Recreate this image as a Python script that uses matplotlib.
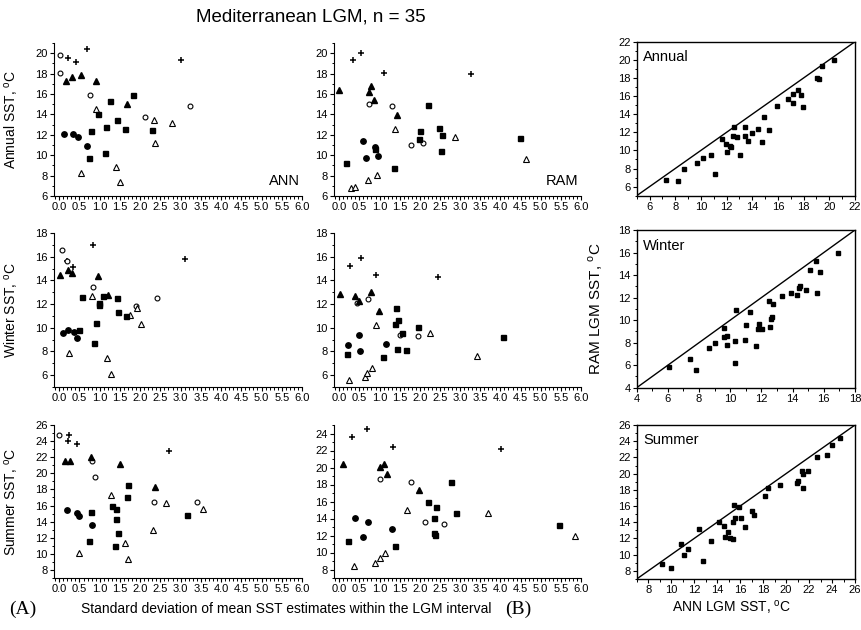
import matplotlib
matplotlib.use("Agg")
import matplotlib.pyplot as plt
from matplotlib.ticker import MultipleLocator, FormatStrFormatter

plt.rcParams['font.family'] = ['Liberation Sans', 'DejaVu Sans']
plt.rcParams['mathtext.fontset'] = 'custom'
plt.rcParams['mathtext.rm'] = 'Liberation Sans'

# (standard deviation, SST) pairs, one list per site group
# ANN method, annual
ann_annual_plus = [(0.68, 20.4), (0.22, 19.55), (0.41, 19.1), (3.01, 19.3)]
ann_annual_ocirc = [(0.03, 19.8), (0.02, 18.05), (0.77, 15.95), (2.11, 13.75), (3.22, 14.85)]
ann_annual_ftri = [(0.17, 17.3), (0.31, 17.7), (0.53, 17.9), (0.90, 17.25), (1.68, 15.0)]
ann_annual_otri = [(0.91, 14.55), (2.34, 13.5), (2.37, 11.15), (2.79, 13.2), (0.53, 8.3), (1.40, 8.8), (1.50, 7.4)]
ann_annual_sq = [(0.95, 14.0), (1.26, 15.35), (1.83, 15.95), (1.43, 13.45), (1.62, 12.55), (1.15, 12.8),
                 (0.79, 12.35), (2.28, 12.45), (0.74, 9.75), (1.12, 10.2)]
ann_annual_fcirc = [(0.12, 12.1), (0.34, 12.05), (0.46, 11.75), (0.69, 10.9)]

# RAM method, annual
ram_annual_plus = [(0.33, 19.35), (0.54, 20.0), (1.12, 18.05), (3.27, 18.0)]
ram_annual_ocirc = [(0.75, 15.05), (1.32, 14.85), (1.78, 11.0), (2.07, 11.15)]
ram_annual_ftri = [(0.0, 16.4), (0.78, 16.75), (0.75, 16.2), (0.87, 15.4), (1.44, 13.9)]
ram_annual_otri = [(1.38, 12.55), (2.88, 11.8), (4.64, 9.65), (0.29, 6.8), (0.40, 6.9), (0.71, 7.55), (0.93, 8.1)]
ram_annual_sq = [(0.17, 9.25), (1.35, 8.75), (0.89, 10.6), (2.21, 14.9), (2.01, 12.4), (1.98, 11.6),
                 (2.48, 12.65), (2.56, 12.0), (2.53, 10.4), (4.49, 11.65)]
ram_annual_fcirc = [(0.60, 11.35), (0.67, 9.7), (0.95, 9.9), (0.89, 10.8)]

# ANN method, winter
ann_winter_plus = [(0.83, 17.0), (0.35, 15.15), (3.11, 15.8), (0.19, 15.6)]
ann_winter_ocirc = [(0.07, 16.55), (0.19, 15.6), (0.83, 13.4), (1.90, 11.85), (2.41, 12.55)]
ann_winter_ftri = [(0.03, 14.45), (0.22, 14.9), (0.31, 14.6), (0.95, 14.4), (1.21, 12.8)]
ann_winter_otri = [(0.80, 12.7), (1.74, 11.1), (1.93, 11.65), (2.01, 10.35), (0.25, 7.9), (1.18, 7.45), (1.27, 6.1)]
ann_winter_sq = [(0.56, 12.6), (1.08, 12.7), (0.97, 12.05), (0.97, 11.9), (1.42, 12.5), (1.45, 11.35),
                 (1.64, 11.0), (0.92, 10.4), (0.50, 9.85), (0.85, 8.7)]
ann_winter_fcirc = [(0.10, 9.6), (0.22, 9.8), (0.37, 9.65), (0.45, 9.1)]

# RAM method, winter
ram_winter_plus = [(0.26, 15.2), (0.55, 15.9), (0.92, 14.45), (2.46, 14.25)]
ram_winter_ocirc = [(0.71, 12.4), (0.43, 12.1), (1.51, 9.35), (1.96, 9.3)]
ram_winter_ftri = [(0.01, 12.85), (0.40, 12.65), (0.50, 12.25), (0.78, 13.05), (0.98, 11.4)]
ram_winter_otri = [(0.91, 10.25), (2.26, 9.55), (3.43, 7.65), (0.23, 5.6), (0.63, 5.85), (0.69, 6.15), (0.82, 6.6)]
ram_winter_sq = [(1.41, 11.65), (1.45, 10.65), (1.38, 10.3), (1.56, 9.6), (1.96, 10.05), (1.09, 7.5),
                 (1.43, 8.25), (1.65, 8.15), (0.20, 7.8), (4.07, 9.2)]
ram_winter_fcirc = [(0.21, 8.55), (0.48, 9.35), (0.52, 8.0), (1.17, 8.65)]

# ANN method, summer
ann_summer_plus = [(0.23, 24.75), (0.21, 24.05), (0.45, 23.65), (2.71, 22.75)]
ann_summer_ocirc = [(0.0, 24.8), (0.80, 21.55), (0.88, 19.5), (2.35, 16.45), (3.40, 16.5)]
ann_summer_ftri = [(0.15, 21.55), (0.26, 21.5), (0.79, 22.05), (1.49, 21.2), (2.36, 18.25)]
ann_summer_otri = [(1.27, 17.35), (2.63, 16.3), (3.55, 15.55), (2.32, 12.95), (1.62, 11.3), (1.70, 9.4), (0.49, 10.15)]
ann_summer_sq = [(1.70, 18.55), (1.67, 17.1), (1.31, 16.0), (1.40, 15.6), (0.79, 15.25), (1.40, 14.35),
                 (1.46, 12.55), (0.74, 11.65), (1.38, 11.0), (3.16, 14.8)]
ann_summer_fcirc = [(0.18, 15.45), (0.45, 15.05), (0.50, 14.75), (0.81, 13.6)]

# RAM method, summer
ram_summer_plus = [(0.31, 23.6), (0.69, 24.5), (1.33, 22.45), (4.01, 22.15)]
ram_summer_ocirc = [(1.02, 18.65), (1.78, 18.3), (2.12, 13.55), (2.59, 13.4)]
ram_summer_ftri = [(0.09, 20.45), (1.02, 20.1), (1.12, 20.45), (1.19, 19.2), (1.98, 17.35)]
ram_summer_otri = [(1.69, 15.05), (3.68, 14.6), (5.84, 11.9), (0.37, 8.45), (0.89, 8.8), (1.00, 9.3), (1.13, 9.95)]
ram_summer_sq = [(2.77, 18.3), (2.21, 15.9), (2.40, 15.35), (2.91, 14.6), (2.36, 14.1), (2.35, 12.25),
                 (2.38, 12.1), (0.22, 11.4), (1.38, 10.75), (5.45, 13.2)]
ram_summer_fcirc = [(0.40, 14.1), (0.71, 13.55), (0.60, 11.8), (1.31, 12.8)]

# ANN vs RAM LGM SST
annual_ann = [7.30, 8.20, 8.72, 9.66, 10.15, 10.82, 11.06, 11.68, 11.96, 12.25, 12.38, 12.02, 12.54, 12.51,
              12.79, 13.08, 13.42, 13.42, 13.68, 13.96, 14.43, 14.77, 14.92, 15.31, 15.91, 16.81, 17.15,
              17.18, 17.54, 17.77, 17.93, 19.02, 19.20, 19.43, 20.37]
annual_ram = [6.70, 6.63, 8.00, 8.59, 9.15, 9.52, 7.37, 11.26, 10.67, 10.44, 10.33, 9.78, 12.63, 11.56,
              11.48, 9.48, 12.56, 11.63, 11.07, 11.89, 12.41, 10.89, 13.74, 12.30, 14.90, 15.67, 15.26,
              16.26, 16.63, 16.07, 14.78, 18.04, 17.85, 19.30, 19.96]

winter_ann = [6.07, 7.40, 7.80, 8.66, 9.02, 9.58, 9.62, 9.77, 9.77, 10.30, 10.33, 10.39, 10.95, 11.01,
              11.27, 11.63, 11.78, 11.87, 12.06, 12.48, 12.53, 12.59, 12.70, 12.72, 13.32, 13.92, 14.28,
              14.41, 14.49, 14.86, 15.09, 15.52, 15.56, 15.78, 16.89]
winter_ram = [5.84, 6.58, 5.57, 7.49, 7.97, 8.53, 9.33, 8.62, 7.79, 6.16, 8.17, 10.87, 8.26, 9.57,
              10.72, 7.67, 9.24, 9.65, 9.21, 11.67, 9.36, 10.07, 10.30, 11.40, 12.11, 12.41, 12.23,
              12.82, 13.00, 12.64, 14.48, 15.25, 12.41, 14.30, 15.96]

summer_ann = [9.23, 9.98, 10.86, 11.12, 11.50, 12.43, 12.76, 13.46, 14.18, 14.62, 14.65, 14.94, 15.15,
              15.41, 15.35, 15.53, 15.50, 15.91, 16.11, 16.40, 17.04, 17.19, 18.18, 18.47, 19.44, 20.92,
              21.07, 21.36, 21.51, 21.51, 21.92, 22.70, 23.58, 24.02, 24.69]
summer_ram = [8.79, 8.37, 11.35, 9.91, 10.73, 13.22, 9.20, 11.73, 14.08, 13.50, 12.22, 12.76, 12.06,
              11.89, 14.00, 14.58, 16.07, 15.86, 14.54, 13.45, 15.33, 14.95, 17.23, 18.26, 18.59, 18.84,
              19.09, 20.29, 19.92, 18.22, 20.33, 22.07, 22.28, 23.52, 24.43]

# marker for each site group, same order as the lists above
group_styles = [
    dict(marker='+', color='k', ms=4.5, mew=1.1),
    dict(marker='o', mfc='white', mec='k', ms=3.5, mew=0.8),
    dict(marker='^', color='k', ms=4.3),
    dict(marker='^', mfc='white', mec='k', ms=4.3, mew=0.8),
    dict(marker='s', color='k', ms=3.6),
    dict(marker='o', color='k', ms=3.9),
]

fig = plt.figure(figsize=(8.61, 6.30), dpi=100)


def px_axes(left, top, right, bottom):
    return fig.add_axes([left / 861, 1 - bottom / 630, (right - left) / 861, (bottom - top) / 630])


def sd_panel(left, top, right, bottom, groups, ylim, ylabel=None, tag=None):
    ax = px_axes(left, top, right, bottom)
    for pts, st in zip(groups, group_styles):
        xs = [p[0] for p in pts]
        ys = [p[1] for p in pts]
        ax.plot(xs, ys, ls='none', clip_on=False, **st)
    ax.set_xlim(-0.13, 6.0)
    ax.set_ylim(*ylim)
    ax.spines['top'].set_visible(False)
    ax.spines['right'].set_visible(False)
    ax.xaxis.set_major_locator(MultipleLocator(0.5))
    ax.xaxis.set_minor_locator(MultipleLocator(0.1))
    ax.xaxis.set_major_formatter(FormatStrFormatter('%.1f'))
    ax.yaxis.set_major_locator(MultipleLocator(2))
    ax.yaxis.set_minor_locator(MultipleLocator(1))
    ax.tick_params(which='major', direction='out', length=3, width=0.8, labelsize=8, pad=1.5)
    ax.tick_params(which='minor', direction='out', length=1.8, width=0.7)
    if ylabel:
        ax.set_ylabel(ylabel, fontsize=10)
        ax.yaxis.set_label_coords((20 - left) / (right - left), 0.5)
    if tag:
        ax.text(0.99, 0.1, tag, transform=ax.transAxes, ha='right', va='center', fontsize=10.5)
    return ax


def compare_panel(top, bottom, xs, ys, lo, hi, name):
    ax = px_axes(636.7, top, 855, bottom)
    ax.plot([lo, hi], [lo, hi], color='k', lw=1)
    ax.plot(xs, ys, ls='none', marker='s', color='k', ms=2.9)
    ax.set_xlim(lo, hi)
    ax.set_ylim(lo, hi)
    ax.xaxis.set_major_locator(MultipleLocator(2))
    ax.xaxis.set_minor_locator(MultipleLocator(1))
    ax.yaxis.set_major_locator(MultipleLocator(2))
    ax.yaxis.set_minor_locator(MultipleLocator(1))
    ax.tick_params(which='major', direction='out', length=3, width=0.8, labelsize=8, pad=1.5)
    ax.tick_params(which='minor', direction='out', length=1.8, width=0.7)
    for s in ax.spines.values():
        s.set_linewidth(1.0)
    ax.text(0.03, 0.9, name, transform=ax.transAxes, ha='left', va='center', fontsize=10.5)
    return ax


sst = r'SST, $^{\mathrm{o}}$C'

sd_panel(54, 43, 302, 196,
         [ann_annual_plus, ann_annual_ocirc, ann_annual_ftri, ann_annual_otri, ann_annual_sq, ann_annual_fcirc],
         (6, 21), 'Annual ' + sst, 'ANN')
sd_panel(334, 43, 581, 196,
         [ram_annual_plus, ram_annual_ocirc, ram_annual_ftri, ram_annual_otri, ram_annual_sq, ram_annual_fcirc],
         (6, 21), None, 'RAM')
sd_panel(54, 233, 302, 387,
         [ann_winter_plus, ann_winter_ocirc, ann_winter_ftri, ann_winter_otri, ann_winter_sq, ann_winter_fcirc],
         (5, 18), 'Winter ' + sst)
sd_panel(334, 233, 581, 387,
         [ram_winter_plus, ram_winter_ocirc, ram_winter_ftri, ram_winter_otri, ram_winter_sq, ram_winter_fcirc],
         (5, 18))
sd_panel(54, 425, 302, 578,
         [ann_summer_plus, ann_summer_ocirc, ann_summer_ftri, ann_summer_otri, ann_summer_sq, ann_summer_fcirc],
         (7, 26), 'Summer ' + sst)
sd_panel(334, 425, 581, 578,
         [ram_summer_plus, ram_summer_ocirc, ram_summer_ftri, ram_summer_otri, ram_summer_sq, ram_summer_fcirc],
         (7, 25))

compare_panel(41.7, 195.7, annual_ann, annual_ram, 5, 22, 'Annual')
ax_w = compare_panel(230, 387.7, winter_ann, winter_ram, 4, 18, 'Winter')
compare_panel(425, 579, summer_ann, summer_ram, 7, 26, 'Summer')

ax_w.set_ylabel('RAM LGM ' + sst, fontsize=11)
ax_w.yaxis.set_label_coords((605 - 636.7) / 218.3, 0.5)

fig.text(311 / 861, 1 - 17 / 630, 'Mediterranean LGM, n = 35', ha='center', va='center', fontsize=13.5)
fig.text(286 / 861, 1 - 609 / 630, 'Standard deviation of mean SST estimates within the LGM interval',
         ha='center', va='center', fontsize=10)
fig.text(732 / 861, 1 - 607 / 630, 'ANN LGM ' + sst, ha='center', va='center', fontsize=10)
fig.text(9 / 861, 1 - 609 / 630, '(A)', ha='left', va='center', fontsize=14,
         family=['Liberation Serif', 'DejaVu Serif'])
fig.text(505 / 861, 1 - 609 / 630, '(B)', ha='left', va='center', fontsize=14,
         family=['Liberation Serif', 'DejaVu Serif'])

fig.savefig('out.png', dpi=100)
